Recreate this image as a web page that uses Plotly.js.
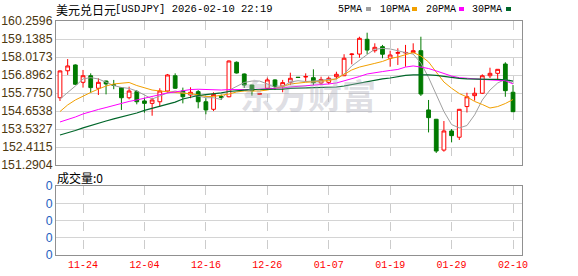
<!DOCTYPE html>
<html>
<head>
<meta charset="utf-8">
<script src="https://cdn.plot.ly/plotly-3.0.1.min.js"></script>
<style>
  html, body { margin: 0; padding: 0; background: #ffffff; }
  #chart { width: 578px; height: 276px; }
</style>
</head>
<body>
<div id="chart"></div>
<script>
const dates = ["11-19","11-20","11-21","11-24","11-25","11-26","11-27","11-28",
  "12-01","12-02","12-03","12-04","12-05","12-08","12-09","12-10","12-11","12-12",
  "12-15","12-16","12-17","12-18","12-19","12-22","12-23","12-24","12-25","12-26",
  "12-29","12-30","12-31","01-01","01-02","01-05","01-06","01-07","01-08","01-09",
  "01-12","01-13","01-14","01-15","01-16","01-19","01-20","01-21","01-22","01-23",
  "01-26","01-27","01-28","01-29","01-30","02-02","02-03","02-04","02-05","02-06",
  "02-09","02-10"];

const openP  = [155.48,157.16,157.52,156.44,156.85,156.07,156.52,156.29,156.11,155.48,
  155.86,155.28,155.13,155.23,155.90,156.85,155.90,155.65,155.86,155.23,
  154.76,155.56,155.54,157.69,156.96,156.27,155.69,156.07,156.59,156.21,
  156.44,156.76,156.77,156.73,156.40,156.44,156.79,156.85,158.17,158.20,
  159.12,158.41,158.66,157.94,158.25,158.27,158.29,158.41,154.72,154.14,
  152.22,153.41,153.02,154.93,155.61,155.76,156.85,157.00,157.58,155.82];
const highP  = [157.18,157.89,157.56,157.21,157.00,156.69,156.55,156.59,156.13,156.17,
  155.96,155.48,155.48,156.07,156.96,157.00,156.11,156.13,155.96,155.45,
  155.82,155.68,157.80,157.74,156.99,156.29,155.74,156.73,156.63,156.59,
  157.04,156.77,157.00,157.25,156.79,156.79,157.10,158.19,158.25,159.28,
  159.53,158.87,158.77,158.41,158.56,158.77,158.87,159.28,155.34,154.16,
  154.03,153.53,154.78,155.79,156.11,156.94,157.35,157.27,157.69,156.27];
const lowP   = [155.28,156.90,156.27,156.11,155.79,155.65,155.69,156.01,154.72,155.38,
  155.07,154.55,154.36,154.92,155.79,156.03,155.13,155.45,154.82,154.45,
  154.65,155.34,155.51,156.99,156.09,155.61,155.65,155.96,155.96,155.82,
  156.27,156.71,156.48,156.27,156.27,156.32,156.63,156.83,157.56,157.97,
  158.19,158.29,157.94,157.41,157.52,157.41,158.25,155.59,153.32,152.04,
  152.12,152.70,152.85,154.56,155.30,155.71,156.71,156.59,155.54,154.60];
const closeP = [157.15,157.46,156.32,156.85,156.11,156.44,156.34,156.25,155.48,155.90,
  155.23,155.13,155.34,155.90,156.90,156.07,155.54,155.82,155.23,154.72,
  155.69,155.50,157.77,157.02,156.27,155.92,155.73,156.59,156.17,156.42,
  156.69,156.74,156.80,156.42,156.62,156.69,156.94,157.94,158.20,159.18,
  158.45,158.62,158.19,158.14,158.29,158.30,158.41,155.71,154.24,152.16,
  153.41,153.12,154.76,155.54,155.76,156.85,157.00,157.25,155.92,154.61];

const ma5  = [155.40,155.78,156.21,156.65,156.73,156.65,156.46,156.24,156.12,156.06,
  155.90,155.65,155.40,155.59,155.78,155.90,155.79,155.69,155.61,155.48,
  155.48,155.37,155.94,156.17,156.43,156.52,156.52,156.34,156.12,156.18,
  156.46,156.54,156.49,156.52,156.59,156.62,156.65,156.96,157.46,157.83,
  158.17,158.50,158.55,158.52,158.39,158.29,158.20,157.64,156.74,155.65,
  154.62,153.81,153.60,153.75,154.41,155.34,155.96,156.40,156.62,156.37];
const ma10 = [154.62,155.03,155.34,155.59,155.81,156.02,156.21,156.34,156.40,156.43,
  156.24,156.09,155.96,155.90,155.84,155.81,155.76,155.74,155.65,155.56,
  155.56,155.62,155.71,155.84,155.90,155.90,155.90,155.96,156.06,156.17,
  156.34,156.40,156.44,156.47,156.50,156.55,156.66,156.93,157.21,157.39,
  157.49,157.62,157.74,157.92,158.02,158.17,158.30,158.08,157.71,157.08,
  156.46,156.07,155.74,155.53,155.25,155.06,154.84,154.93,155.12,155.37];
const ma20 = [153.97,154.12,154.28,154.47,154.62,154.75,154.87,155.00,155.12,155.25,
  155.34,155.46,155.56,155.68,155.78,155.84,155.93,155.99,156.01,155.99,
  155.96,155.96,155.99,156.01,155.99,155.99,156.01,156.02,156.06,156.09,
  156.15,156.18,156.21,156.24,156.27,156.34,156.40,156.52,156.65,156.80,
  156.96,157.05,157.11,157.18,157.24,157.39,157.46,157.39,157.30,157.15,
  156.99,156.83,156.73,156.68,156.65,156.62,156.59,156.57,156.54,156.34];
const ma30 = [153.16,153.28,153.44,153.60,153.75,153.91,154.03,154.16,154.28,154.40,
  154.53,154.69,154.81,154.97,155.09,155.21,155.40,155.53,155.62,155.68,
  155.71,155.78,155.87,155.93,155.96,155.99,155.99,156.01,156.02,156.02,
  156.06,156.07,156.08,156.09,156.10,156.12,156.15,156.21,156.30,156.40,
  156.49,156.59,156.65,156.71,156.80,156.87,156.91,156.92,156.90,156.87,
  156.80,156.73,156.69,156.65,156.63,156.62,156.62,156.62,156.60,156.52];

const volume = dates.map(() => 0);

const xTickLabels = ["11-24","12-04","12-16","12-26","01-07","01-19","01-29","02-10"];
const yTickValues = [151.2904,152.4115,153.5327,154.6538,155.7750,156.8962,158.0173,159.1385,160.2596];
const yTickLabels = ["151.2904","152.4115","153.5327","154.6538","155.7750","156.8962","158.0173","159.1385","160.2596"];
const volTickValues = [0,1,2,3,4];
const volTickLabels = ["0","0","0","0","0"];

const titleCn = "美元兑日元";
const titleEn = "[USDJPY] 2026-02-10 22:19";
const legendNames = ["5PMA","10PMA","20PMA","30PMA"];
const maColors = ["#a0a0a0","#f2a000","#ff00ff","#00662a"];
const volLabel = "成交量:0";
const watermark = "东方财富";

// layout geometry (pixels)
const L = 56, R = 522, T = 21, B = 255;
const px = x => (x - L) / (R - L);
const py = y => (B - y) / (B - T);

const traces = [
  {
    type: 'candlestick', x: dates, open: openP, high: highP, low: lowP, close: closeP,
    xaxis: 'x', yaxis: 'y', whiskerwidth: 0, showlegend: false, hoverinfo: 'skip',
    increasing: { line: { color: '#ff0000', width: 1 }, fillcolor: '#ffffff' },
    decreasing: { line: { color: '#007a00', width: 1 }, fillcolor: '#007a00' }
  },
  { type: 'scatter', mode: 'lines', x: dates, y: ma5,  xaxis: 'x', yaxis: 'y', line: { color: maColors[0], width: 1 }, showlegend: false, hoverinfo: 'skip' },
  { type: 'scatter', mode: 'lines', x: dates, y: ma10, xaxis: 'x', yaxis: 'y', line: { color: maColors[1], width: 1 }, showlegend: false, hoverinfo: 'skip' },
  { type: 'scatter', mode: 'lines', x: dates, y: ma20, xaxis: 'x', yaxis: 'y', line: { color: maColors[2], width: 1 }, showlegend: false, hoverinfo: 'skip' },
  { type: 'scatter', mode: 'lines', x: dates, y: ma30, xaxis: 'x', yaxis: 'y', line: { color: maColors[3], width: 1.2 }, showlegend: false, hoverinfo: 'skip' },
  { type: 'bar', x: dates, y: volume, xaxis: 'x2', yaxis: 'y2', marker: { color: '#007a00' }, showlegend: false, hoverinfo: 'skip' }
];

const xRange = [-0.52, 60.17];
const commonX = {
  type: 'category', categoryorder: 'array', categoryarray: dates,
  range: xRange, tickvals: xTickLabels, ticktext: xTickLabels,
  showgrid: true, gridcolor: '#cccccc', griddash: 'dash', gridwidth: 1,
  showline: true, mirror: true, linecolor: '#909090', linewidth: 1,
  ticks: '', zeroline: false, fixedrange: true
};

const annotations = [
  { text: titleCn, xref: 'paper', yref: 'paper', x: px(L - 2), y: py(9.5), xanchor: 'left', yanchor: 'middle', showarrow: false,
    font: { family: 'Noto Sans CJK SC', size: 12, color: '#000000' } },
  { text: titleEn, xref: 'paper', yref: 'paper', x: px(113), y: py(9.5), xanchor: 'left', yanchor: 'middle', showarrow: false,
    font: { family: 'Liberation Mono, DejaVu Sans Mono', size: 10.5, color: '#000000' } },
  { text: volLabel, xref: 'paper', yref: 'paper', x: px(L - 1), y: py(177), xanchor: 'left', yanchor: 'middle', showarrow: false,
    font: { family: 'Noto Sans CJK SC', size: 12, color: '#000000' } },
  { text: watermark, xref: 'paper', yref: 'paper', x: px(308), y: py(94), xanchor: 'center', yanchor: 'middle', showarrow: false,
    font: { family: 'Noto Sans CJK SC', size: 34, color: 'rgba(170,170,185,0.38)', weight: 'bold' } }
];

const legendTextX = [338, 380, 426, 472];
const legendSwatchX = [366, 412, 459, 506];
const shapes = [];
legendNames.forEach((name, i) => {
  annotations.push({ text: name, xref: 'paper', yref: 'paper', x: px(legendTextX[i] - 2), y: py(9.5), xanchor: 'left', yanchor: 'middle', showarrow: false,
    font: { family: 'Liberation Mono, DejaVu Sans Mono', size: 10, color: '#000000' } });
  shapes.push({ type: 'rect', xref: 'paper', yref: 'paper', x0: px(legendSwatchX[i]), x1: px(legendSwatchX[i] + 5), y0: py(11), y1: py(7),
    fillcolor: maColors[i], line: { width: 0 } });
});

const layout = {
  width: 578, height: 276,
  margin: { l: L, r: 578 - R, t: T, b: 276 - B, pad: 0 },
  paper_bgcolor: '#ffffff', plot_bgcolor: '#ffffff',
  showlegend: false,
  xaxis: Object.assign({}, commonX, { anchor: 'y', showticklabels: false, rangeslider: { visible: false } }),
  xaxis2: Object.assign({}, commonX, { anchor: 'y2', showticklabels: true,
    tickfont: { family: 'Liberation Mono, DejaVu Sans Mono', size: 10, color: '#ff0000' } }),
  yaxis: {
    domain: [py(165), 1], range: [yTickValues[0], yTickValues[8]],
    tickvals: yTickValues, ticktext: yTickLabels, ticks: '',
    showgrid: true, gridcolor: '#d4d4d4', gridwidth: 1, zeroline: false,
    showline: true, mirror: true, linecolor: '#909090', linewidth: 1,
    tickfont: { family: 'Liberation Sans, Arial', size: 12.3, color: '#4d3810' }, fixedrange: true
  },
  yaxis2: {
    domain: [0, py(186)], range: [0, 4],
    tickvals: volTickValues, ticktext: volTickLabels, ticks: '',
    showgrid: true, gridcolor: '#d4d4d4', gridwidth: 1, zeroline: false,
    showline: true, mirror: true, linecolor: '#909090', linewidth: 1,
    tickfont: { family: 'Liberation Sans, Arial', size: 12.3, color: '#1f5fbf' }, fixedrange: true
  },
  annotations: annotations,
  shapes: shapes,
  bargap: 0.3
};

Plotly.newPlot('chart', traces, layout, { staticPlot: true, displayModeBar: false });
</script>
</body>
</html>
